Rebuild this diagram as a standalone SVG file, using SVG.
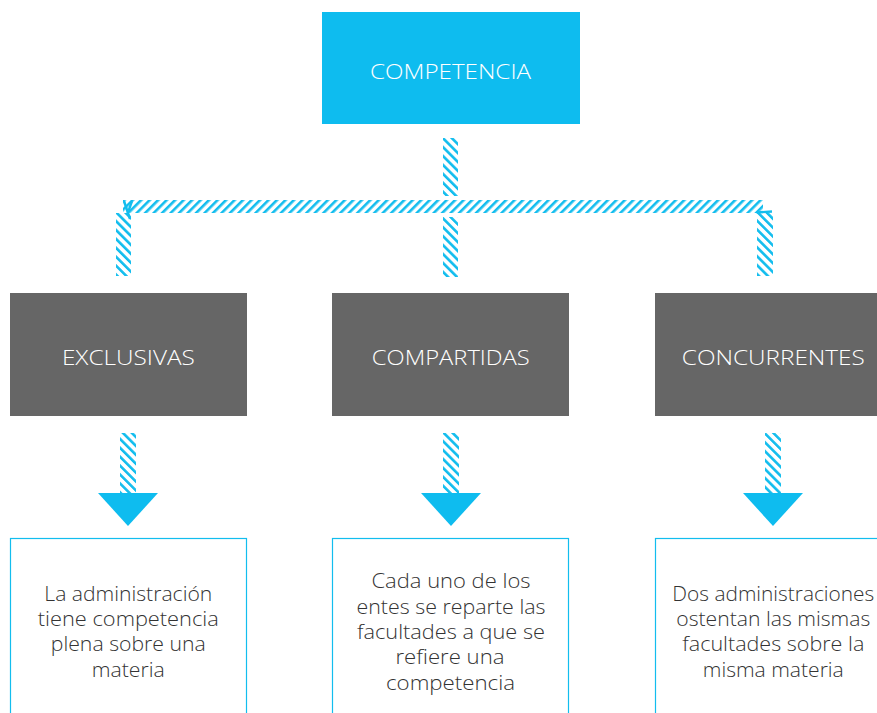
<svg xmlns="http://www.w3.org/2000/svg" width="877" height="713" viewBox="0 0 877 713">
<defs>
<pattern id="hs" width="6" height="6" patternUnits="userSpaceOnUse" patternTransform="rotate(45)">
<rect x="0" y="0" width="2.6" height="6" fill="#12BDEE"/>
</pattern>
<pattern id="vs" width="6.3" height="6.3" patternUnits="userSpaceOnUse" patternTransform="rotate(-45)">
<rect x="0" y="0" width="2.6" height="6.3" fill="#12BDEE"/>
</pattern>
</defs>
<style>
.blue{fill:#0EBCEF}
.gray{fill:#666666}
.hd{font-family:"Open Sans",Lato,sans-serif;font-weight:300;font-size:21px;fill:#ffffff;text-anchor:middle}
.bx{fill:#ffffff;stroke:#12BDEE;stroke-width:1.2}
.tx{font-family:"Open Sans",Lato,sans-serif;font-weight:300;font-size:20px;fill:#333333;text-anchor:middle}
.tri{fill:#0EBCEF}
.ln{stroke:#12BDEE;stroke-width:2.4;fill:none}
</style>
<rect width="877" height="713" fill="#ffffff"/>
<g id="connectors">
<rect x="443" y="138" width="15" height="58" fill="url(#vs)"/>
<rect x="123" y="200" width="640" height="13" fill="url(#hs)"/>
<rect x="443" y="217" width="15" height="60" fill="url(#vs)"/>
<rect x="116" y="213" width="15" height="63" fill="url(#vs)"/>
<rect x="757" y="213" width="16" height="63" fill="url(#vs)"/>
<line class="ln" x1="124" y1="201" x2="130" y2="219"/>
<line class="ln" x1="132" y1="201" x2="128.5" y2="211"/>
<line class="ln" x1="756.5" y1="212.5" x2="772" y2="211.5"/>
<rect x="120" y="433" width="16" height="60" fill="url(#vs)"/>
<polygon class="tri" points="98,493 158,493 128,526"/>
<rect x="443" y="433" width="16" height="60" fill="url(#vs)"/>
<polygon class="tri" points="421,493 481,493 451,526"/>
<rect x="765" y="433" width="16" height="60" fill="url(#vs)"/>
<polygon class="tri" points="743,493 803,493 773,526"/>
</g>
<g id="competencia">
<rect class="blue" x="322" y="12" width="258" height="112"/>
<text class="hd" x="450.5" y="78.5" textLength="161" lengthAdjust="spacingAndGlyphs">COMPETENCIA</text>
</g>
<g id="exclusivas">
<rect class="gray" x="10" y="293" width="237" height="123"/>
<text class="hd" x="128.4" y="365" textLength="133" lengthAdjust="spacingAndGlyphs">EXCLUSIVAS</text>
</g>
<g id="compartidas">
<rect class="gray" x="332" y="293" width="237" height="123"/>
<text class="hd" x="450.8" y="365" textLength="158" lengthAdjust="spacingAndGlyphs">COMPARTIDAS</text>
</g>
<g id="concurrentes">
<rect class="gray" x="655" y="293" width="237" height="123"/>
<text class="hd" x="773.3" y="365" textLength="183" lengthAdjust="spacingAndGlyphs">CONCURRENTES</text>
</g>
<g id="desc-exclusivas">
<rect class="bx" x="10.5" y="538.5" width="236" height="190"/>
<text class="tx" x="128.3" y="601" textLength="168" lengthAdjust="spacingAndGlyphs">La administración</text>
<text class="tx" x="128.3" y="626" textLength="181" lengthAdjust="spacingAndGlyphs">tiene competencia</text>
<text class="tx" x="128.3" y="651" textLength="155" lengthAdjust="spacingAndGlyphs">plena sobre una</text>
<text class="tx" x="128.3" y="676.5" textLength="73" lengthAdjust="spacingAndGlyphs">materia</text>
</g>
<g id="desc-compartidas">
<rect class="bx" x="332.5" y="538.5" width="236" height="190"/>
<text class="tx" x="451" y="588.3" textLength="159" lengthAdjust="spacingAndGlyphs">Cada uno de los</text>
<text class="tx" x="451" y="613.5" textLength="189" lengthAdjust="spacingAndGlyphs">entes se reparte las</text>
<text class="tx" x="451" y="639" textLength="188" lengthAdjust="spacingAndGlyphs">facultades a que se</text>
<text class="tx" x="450" y="664.3" textLength="109" lengthAdjust="spacingAndGlyphs">refiere una</text>
<text class="tx" x="450.5" y="689.7" textLength="129" lengthAdjust="spacingAndGlyphs">competencia</text>
</g>
<g id="desc-concurrentes">
<rect class="bx" x="655.5" y="538.5" width="236" height="190"/>
<text class="tx" x="773.3" y="601" textLength="202" lengthAdjust="spacingAndGlyphs">Dos administraciones</text>
<text class="tx" x="773.3" y="626" textLength="194" lengthAdjust="spacingAndGlyphs">ostentan las mismas</text>
<text class="tx" x="773.3" y="651" textLength="182" lengthAdjust="spacingAndGlyphs">facultades sobre la</text>
<text class="tx" x="773.3" y="676.5" textLength="141" lengthAdjust="spacingAndGlyphs">misma materia</text>
</g>
</svg>
